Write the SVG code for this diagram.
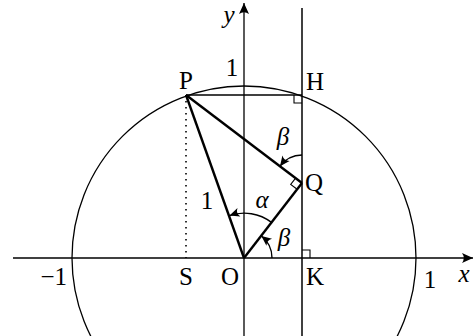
<svg xmlns="http://www.w3.org/2000/svg" width="476" height="336" viewBox="0 0 476 336">
<defs>
<style>
.ln{fill:none;stroke:#000;stroke-width:1.3}
.th{fill:none;stroke:#000;stroke-width:2.4}
.arc{fill:none;stroke:#000;stroke-width:1.4}
.dot{fill:none;stroke:#000;stroke-width:1.6;stroke-dasharray:1.6 4.4}
text{font-family:"Liberation Serif","DejaVu Serif",serif;font-size:25px;fill:#000}
.it{font-style:italic}
</style>
<marker id="ax" viewBox="-12 -6 13 12" refX="0" refY="0" markerWidth="13" markerHeight="12" markerUnits="userSpaceOnUse" orient="auto">
<path d="M0,0 L-11,-5 Q-7.5,0 -11,5 Z" fill="#000"/>
</marker>
<marker id="ah" viewBox="-11 -5 12 10" refX="0" refY="0" markerWidth="12" markerHeight="10" markerUnits="userSpaceOnUse" orient="auto">
<path d="M0,0 L-10,-4.5 Q-6.5,0 -10,4.5 Z" fill="#000"/>
</marker>
</defs>
<g id="circle"><circle cx="244" cy="258" r="172" class="ln"/></g>
<g id="axes">
<line x1="13" y1="258" x2="473" y2="258" class="ln" marker-end="url(#ax)"/>
<line x1="244" y1="336" x2="244" y2="3" class="ln" marker-end="url(#ax)"/>
<line x1="302" y1="8" x2="302" y2="336" class="ln" style="stroke-width:1.5"/>
</g>
<g id="connectors">
<line x1="186" y1="95" x2="302" y2="95" class="ln" style="stroke-width:1.5"/>
<line x1="186" y1="95" x2="186" y2="258" class="dot"/>
<line x1="244" y1="258" x2="186" y2="95" class="th"/>
<line x1="244" y1="258" x2="302" y2="183" class="th"/>
<line x1="186" y1="95" x2="302" y2="183" class="th"/>
<path d="M294,95 V103 H302" class="ln" style="stroke-width:1.1"/>
<path d="M302,250 H310 V258" class="ln" style="stroke-width:1.1"/>
<path d="M297.1,189.3 L290.7,184.5 L295.6,178.2" class="ln" style="stroke-width:1.1"/>
<path d="M271.5,222.4 A45,45 0 0 0 229.5,215.6" class="arc" marker-end="url(#ah)"/>
<path d="M272,258 A28,28 0 0 0 261.4,236" class="arc" marker-end="url(#ah)"/>
<path d="M302,155 A28,28 0 0 0 280,166.2" class="arc" marker-end="url(#ah)"/>
</g>
<g id="labels">
<text x="186" y="89" text-anchor="middle">P</text>
<text x="232" y="76" text-anchor="middle">1</text>
<text x="306" y="90">H</text>
<text x="283" y="145" text-anchor="middle" class="it">β</text>
<text x="305" y="191">Q</text>
<text x="207" y="209" text-anchor="middle">1</text>
<text x="262" y="208" text-anchor="middle" class="it">α</text>
<text x="284" y="246" text-anchor="middle" class="it">β</text>
<text x="186" y="285" text-anchor="middle">S</text>
<text x="230" y="285" text-anchor="middle">O</text>
<text x="306" y="285">K</text>
<text x="67" y="285" text-anchor="end">−1</text>
<text x="430" y="288" text-anchor="middle">1</text>
<text x="464" y="282" text-anchor="middle" class="it">x</text>
<text x="229" y="23" text-anchor="middle" class="it">y</text>
</g>
</svg>
